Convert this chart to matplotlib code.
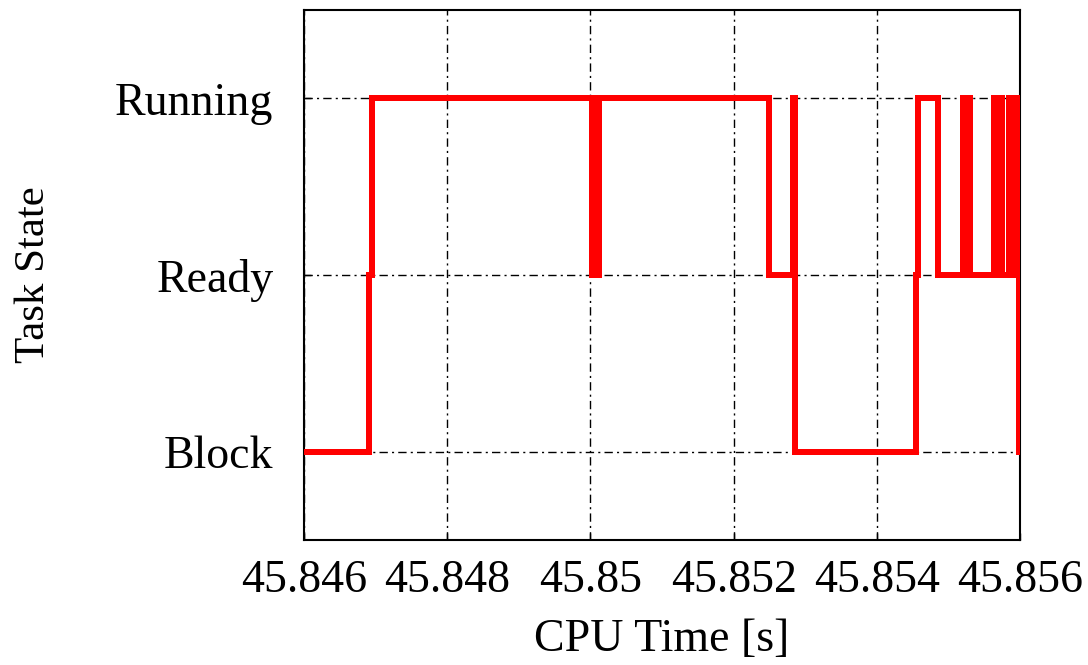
import matplotlib
matplotlib.use("Agg")
import matplotlib.pyplot as plt

# task state trace: 0 = Block, 1 = Ready, 2 = Running
times = [45.846, 45.84691, 45.84695,
         45.85002, 45.85004, 45.85006, 45.85008, 45.85010, 45.85012,
         45.85249, 45.85283, 45.85286,
         45.85455, 45.85458, 45.85485,
         45.85520, 45.85522, 45.85524, 45.85526, 45.85528, 45.85530,
         45.85564, 45.85566, 45.85568, 45.85570, 45.85572, 45.85575,
         45.85585, 45.85587, 45.85589, 45.85591, 45.85593, 45.85598, 45.856]
states = [0, 1, 2,
          1, 2, 1, 2, 1, 2,
          1, 2, 0,
          1, 2, 1,
          2, 1, 2, 1, 2, 1,
          2, 1, 2, 1, 2, 1,
          2, 1, 2, 1, 2, 0, 0]

state_labels = ["Block", "Ready", "Running"]
xticks = [45.846, 45.848, 45.85, 45.852, 45.854, 45.856]
xtick_labels = ["45.846", "45.848", "45.85", "45.852", "45.854", "45.856"]

plt.rcParams['font.family'] = ['Liberation Serif', 'DejaVu Serif']

fig = plt.figure(figsize=(10.88, 6.65), dpi=100)
ax = fig.add_axes([304 / 1088, 1 - 540 / 665, 716 / 1088, 530 / 665])

# draw the step trace as separate segments so the fast toggles render solid
red = '#ff0000'
hl = ax.hlines(states[:-1], times[:-1], times[1:], colors=red, lw=3.6,
               capstyle='projecting', zorder=3)
vl = ax.vlines(times[1:-1], states[:-2], states[1:-1], colors=red, lw=3.6,
               capstyle='projecting', zorder=3)
hl.set_snap(False)
vl.set_snap(False)
hl.set_antialiased(False)
vl.set_antialiased(False)

ax.set_xlim(45.846, 45.856)
ax.set_ylim(-0.5, 2.5)
ax.set_xticks(xticks)
ax.set_xticklabels(xtick_labels)
ax.set_yticks([0, 1, 2])
ax.set_yticklabels(state_labels)

ax.grid(True, color='black', lw=1.0, linestyle=(0, (6, 3, 1.5, 3)), zorder=1)
ax.tick_params(direction='in', length=5, width=1, labelsize=33, colors='black')
ax.tick_params(axis='x', pad=14)
ax.tick_params(axis='y', pad=22)
for sp in ax.spines.values():
    sp.set_linewidth(1.5)

ax.set_xlabel("CPU Time [s]", fontsize=33, labelpad=12)
ax.set_ylabel("Task State", fontsize=31, labelpad=45)

fig.savefig("out.png", dpi=100)
